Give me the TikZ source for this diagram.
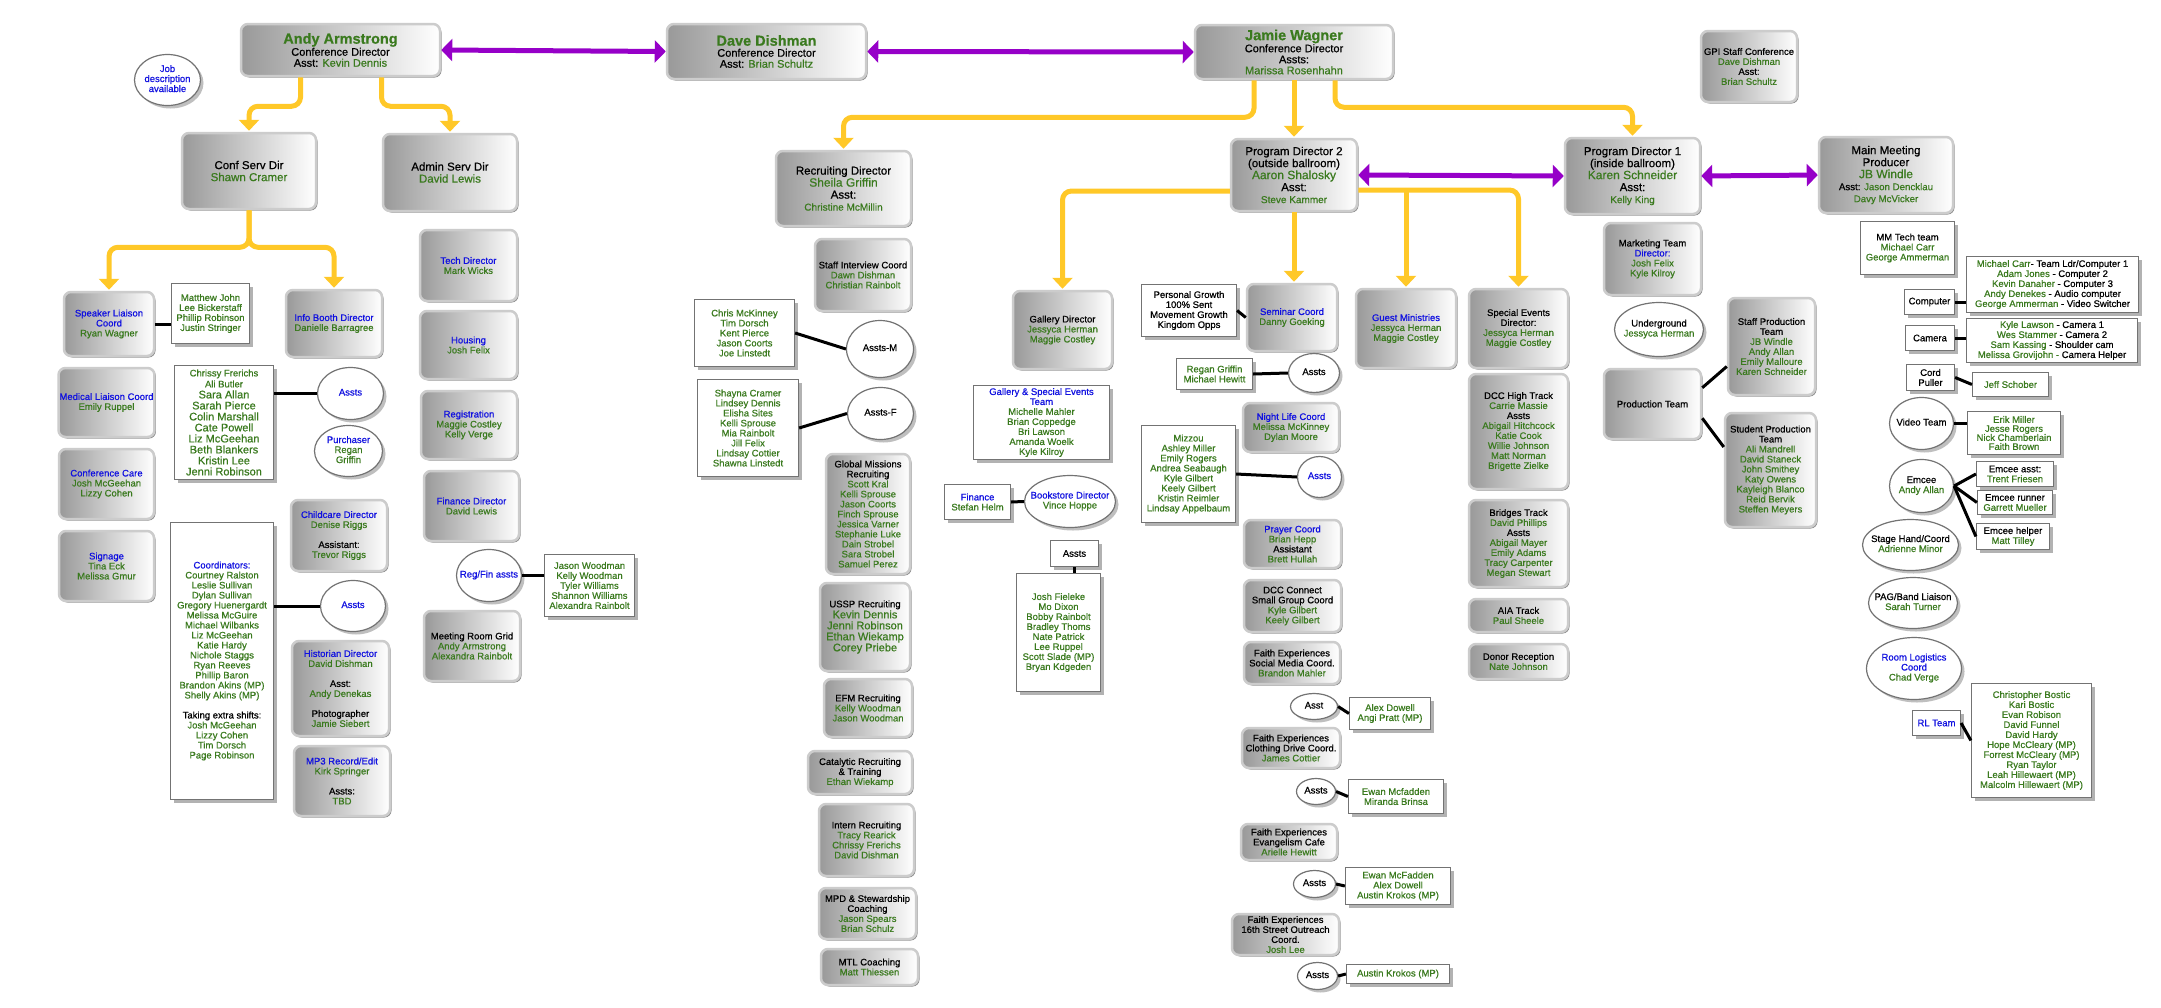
\documentclass[tikz,border=0pt]{standalone}
\usepackage{fontspec}
\setmainfont{Liberation Sans}[FakeBold=0.6]
\usetikzlibrary{positioning,shapes.geometric,shadows,arrows.meta}
\definecolor{namegreen}{RGB}{58,122,30}
\definecolor{titleblue}{RGB}{16,16,224}
\definecolor{feedyellow}{RGB}{255,200,40}
\definecolor{peerpurple}{RGB}{150,0,200}
\newcommand{\grn}[1]{\textcolor{namegreen}{#1}}
\newcommand{\blu}[1]{\textcolor{titleblue}{#1}}
\newcommand{\blk}[1]{\textcolor{black}{#1}}
\newcommand{\fsz}[1]{\fontsize{#1}{#1}\selectfont}
\newcommand{\inell}[1]{\makebox[0pt]{\begin{tabular}{@{}c@{}}#1\end{tabular}}}
\tikzset{sz/.style 2 args={minimum width=#1pt,minimum height=#2pt},
  grey box/.style={rectangle,rounded corners=7pt,draw=black!20,line width=2.5pt,left color=black!40,right color=white,inner sep=1pt,align=center,font=\fontsize{9.5}{10}\selectfont,drop shadow={shadow xshift=1.5pt,shadow yshift=-1.5pt,fill=black!45,opacity=1}},
  list box/.style={rectangle,draw=black!55,line width=1.2pt,fill=white,text=namegreen,inner sep=1pt,align=center,font=\fontsize{9.5}{10}\selectfont,drop shadow={shadow xshift=3.5pt,shadow yshift=-3.5pt,fill=black!30,opacity=1}},
  bubble/.style={ellipse,draw=black!55,line width=1.2pt,fill=white,inner sep=1pt,font=\fontsize{9.5}{10}\selectfont,drop shadow={shadow xshift=3pt,shadow yshift=-3pt,fill=black!25,opacity=1}},
  feed/.style={draw=feedyellow,line width=5pt,rounded corners=9pt,-{Triangle[width=20pt,length=11pt]},shorten >=1pt},
  peer/.style={draw=peerpurple,line width=5pt,{Triangle[width=22pt,length=11pt]}-{Triangle[width=22pt,length=11pt]}},
  link/.style={draw,line width=3pt},
}
\begin{document}
\begin{tikzpicture}[x=1pt,y=-1pt]
\fill[white] (0,0) rectangle (2161,1007);
\useasboundingbox (0,0) rectangle (2161,1007);

% conference directors
\node[grey box,sz={199}{52},font=\fontsize{11}{11}\selectfont] (andy) at (340.5,50) {{\fsz{14.5}\bfseries\grn{Andy Armstrong}}\\Conference Director\\Asst: \grn{Kevin Dennis}};
\node[grey box,sz={199}{55},font=\fontsize{11}{11}\selectfont] (dave) at (766.5,51.5) {{\fsz{14.5}\bfseries\grn{Dave Dishman}}\\Conference Director\\Asst: \grn{Brian Schultz}};
\node[grey box,sz={198}{54},font=\fontsize{11}{11}\selectfont] (jamie) at (1294,52) {{\fsz{14.5}\bfseries\grn{Jamie Wagner}}\\Conference Director\\Assts:\\\grn{Marissa Rosenhahn}};
\node[grey box,sz={96}{71}] (gpi) at (1749,66.5) {GPI Staff Conference\\\grn{Dave Dishman}\\Asst:\\\grn{Brian Schultz}};
\node[bubble,sz={66}{51}] (job) at (167.5,80) {\inell{\blu{Job}\\\blu{description}\\\blu{available}}};

% conference services
\node[grey box,sz={134}{76},font=\fontsize{11.5}{12}\selectfont] (conf) at (249,171) {Conf Serv Dir\\\grn{Shawn Cramer}};
\node[grey box,sz={90}{64}] (speaker) at (109,324) {\blu{Speaker Liaison}\\\blu{Coord}\\\grn{Ryan Wagner}};
\node[list box,sz={78}{60}] (matthew) at (210.5,313.5) {Matthew John\\Lee Bickerstaff\\Phillip Robinson\\Justin Stringer};
\node[grey box,sz={96}{67}] (info) at (334,323.5) {\blu{Info Booth Director}\\\grn{Danielle Barragree}};
\node[grey box,sz={95}{69}] (medical) at (106.5,402.5) {\blu{Medical Liaison Coord}\\\grn{Emily Ruppel}};
\node[grey box,sz={95}{70}] (confcare) at (106.5,484) {\blu{Conference Care}\\\grn{Josh McGeehan}\\\grn{Lizzy Cohen}};
\node[grey box,sz={95}{70}] (signage) at (106.5,566) {\blu{Signage}\\\grn{Tina Eck}\\\grn{Melissa Gmur}};
\node[list box,sz={99}{114},font=\fontsize{11}{11}\selectfont] (chrissy) at (224,422.5) {{\fsz{9.5}Chrissy Frerichs}\\{\fsz{9.5}Ali Butler}\\Sara Allan\\Sarah Pierce\\Colin Marshall\\Cate Powell\\Liz McGeehan\\Beth Blankers\\Kristin Lee\\Jenni Robinson};
\node[bubble,sz={66}{52}] (asstsA) at (350.5,393.5) {\inell{\blu{Assts}}};
\node[bubble,sz={68}{51}] (purchaser) at (348.5,451) {\inell{\blu{Purchaser}\\\grn{Regan}\\\grn{Griffin}}};
\node[grey box,sz={96}{71}] (childcare) at (339,535.5) {\blu{Childcare Director}\\\grn{Denise Riggs}\\[10pt]Assistant:\\\grn{Trevor Riggs}};
\node[list box,sz={103}{277}] (coordlist) at (222,661) {\blu{Coordinators:}\\Courtney Ralston\\Leslie Sullivan\\Dylan Sullivan\\Gregory Huenergardt\\Melissa McGuire\\Michael Wilbanks\\Liz McGeehan\\Katie Hardy\\Nichole Staggs\\Ryan Reeves\\Phillip Baron\\Brandon Akins (MP)\\Shelly Akins (MP)\\[10pt]\blk{Taking extra shifts:}\\Josh McGeehan\\Lizzy Cohen\\Tim Dorsch\\Page Robinson};
\node[bubble,sz={65}{51}] (asstsB) at (353,606) {\inell{\blu{Assts}}};
\node[grey box,sz={97}{95}] (historian) at (340.5,688.5) {\blu{Historian Director}\\\grn{David Dishman}\\[10pt]Asst:\\\grn{Andy Denekas}\\[10pt]Photographer\\\grn{Jamie Siebert}};
\node[grey box,sz={96}{70}] (mpthree) at (342,781) {\blu{MP3 Record/Edit}\\\grn{Kirk Springer}\\[10pt]Assts:\\\grn{TBD}};

% admin services
\node[grey box,sz={134}{77},font=\fontsize{11.5}{12}\selectfont] (admin) at (450,172.5) {Admin Serv Dir\\\grn{David Lewis}};
\node[grey box,sz={97}{71}] (tech) at (468.5,265.5) {\blu{Tech Director}\\\grn{Mark Wicks}};
\node[grey box,sz={97}{68}] (housing) at (468.5,345) {\blu{Housing}\\\grn{Josh Felix}};
\node[grey box,sz={96}{68}] (registration) at (469,425) {\blu{Registration}\\\grn{Maggie Costley}\\\grn{Kelly Verge}};
\node[grey box,sz={95}{70}] (findir) at (471.5,506) {\blu{Finance Director}\\\grn{David Lewis}};
\node[bubble,sz={65}{52}] (regfin) at (489,575.5) {\inell{\blu{Reg/Fin assts}}};
\node[list box,sz={90}{62}] (regfinlist) at (589.5,585.5) {Jason Woodman\\Kelly Woodman\\Tyler Williams\\Shannon Williams\\Alexandra Rainbolt};
\node[grey box,sz={96}{70}] (meetgrid) at (472,646) {Meeting Room Grid\\\grn{Andy Armstrong}\\\grn{Alexandra Rainbolt}};

% recruiting
\node[grey box,sz={135}{75},font=\fontsize{11.5}{12}\selectfont] (recruit) at (843.5,188.5) {Recruiting Director\\{\fsz{12}\grn{Sheila Griffin}}\\Asst:\\{\fsz{10}\grn{Christine McMillin}}};
\node[grey box,sz={96}{72}] (staffint) at (863,275) {Staff Interview Coord\\\grn{Dawn Dishman}\\\grn{Christian Rainbolt}};
\node[list box,sz={100}{67}] (chrislist) at (744.5,333) {Chris McKinney\\Tim Dorsch\\Kent Pierce\\Jason Coorts\\Joe Linstedt};
\node[bubble,sz={67}{57}] (asstsM) at (880,349) {\inell{Assts-M}};
\node[list box,sz={101}{97}] (shaynalist) at (748,428) {Shayna Cramer\\Lindsey Dennis\\Elisha Sites\\Kelli Sprouse\\Mia Rainbolt\\Jill Felix\\Lindsay Cottier\\Shawna Linstedt};
\node[bubble,sz={66}{52}] (asstsF) at (880.5,413.5) {\inell{Assts-F}};
\node[grey box,sz={84}{120}] (global) at (868,514) {Global Missions\\Recruiting\\\grn{Scott Kral}\\\grn{Kelli Sprouse}\\\grn{Jason Coorts}\\\grn{Finch Sprouse}\\\grn{Jessica Varner}\\\grn{Stephanie Luke}\\\grn{Dain Strobel}\\\grn{Sara Strobel}\\\grn{Samuel Perez}};
\node[grey box,sz={90}{88},font=\fontsize{11}{11}\selectfont] (ussp) at (865,627) {{\fsz{9.5}USSP Recruiting}\\\grn{Kevin Dennis}\\\grn{Jenni Robinson}\\\grn{Ethan Wiekamp}\\\grn{Corey Priebe}};
\node[grey box,sz={88}{58}] (efm) at (868,708) {EFM Recruiting\\\grn{Kelly Woodman}\\\grn{Jason Woodman}};
\node[grey box,sz={104}{43}] (catalytic) at (860,772.5) {Catalytic Recruiting\\\& Training\\\grn{Ethan Wiekamp}};
\node[grey box,sz={95}{72}] (intern) at (866.5,840) {Intern Recruiting\\\grn{Tracy Rearick}\\\grn{Chrissy Frerichs}\\\grn{David Dishman}};
\node[grey box,sz={97}{51}] (mpd) at (867.5,913.5) {MPD \& Stewardship\\Coaching\\\grn{Jason Spears}\\\grn{Brian Schulz}};
\node[grey box,sz={97}{36}] (mtl) at (869.5,967) {MTL Coaching\\\grn{Matt Thiessen}};

% gallery
\node[grey box,sz={99}{78}] (gallery) at (1062.5,330) {Gallery Director\\\grn{Jessyca Herman}\\\grn{Maggie Costley}};
\node[list box,sz={136}{74}] (gallerysp) at (1041.5,422.5) {\blu{Gallery \& Special Events}\\\blu{Team}\\Michelle Mahler\\Brian Coppedge\\Bri Lawson\\Amanda Woelk\\Kyle Kilroy};
\node[list box,sz={66}{35}] (finance) at (977.5,502) {\blu{Finance}\\Stefan Helm};
\node[bubble,sz={91}{52}] (bookstore) at (1070,501.5) {\inell{\blu{Bookstore Director}\\\grn{Vince Hoppe}}};
\node[list box,sz={48}{26},text=black] (asstsbook) at (1074.5,553.5) {Assts};
\node[list box,sz={84}{118}] (joshlist) at (1058.5,632.5) {Josh Fieleke\\Mo Dixon\\Bobby Rainbolt\\Bradley Thoms\\Nate Patrick\\Lee Ruppel\\Scott Slade (MP)\\Bryan Kdgeden};

% program director 2
\node[grey box,sz={126}{72},font=\fontsize{11.5}{12}\selectfont] (pdtwo) at (1294,175) {Program Director 2\\(outside ballroom)\\{\fsz{12}\grn{Aaron Shalosky}}\\Asst:\\{\fsz{10}\grn{Steve Kammer}}};
\node[list box,sz={95}{52},text=black] (personal) at (1189,310.5) {Personal Growth\\100\% Sent\\Movement Growth\\Kingdom Opps};
\node[grey box,sz={90}{67}] (seminar) at (1292,317.5) {\blu{Seminar Coord}\\\grn{Danny Goeking}};
\node[list box,sz={76}{31}] (regan) at (1214.5,374) {Regan Griffin\\Michael Hewitt};
\node[bubble,sz={51}{39}] (asstsSem) at (1314,373) {\inell{Assts}};
\node[grey box,sz={96}{49}] (nightlife) at (1291,427.5) {\blu{Night Life Coord}\\\grn{Melissa McKinney}\\\grn{Dylan Moore}};
\node[list box,sz={94}{97}] (mizzou) at (1188.5,474) {Mizzou\\Ashley Miller\\Emily Rogers\\Andrea Seabaugh\\Kyle Gilbert\\Keely Gilbert\\Kristin Reimler\\Lindsay Appelbaum};
\node[bubble,sz={44}{41}] (asstsNight) at (1319.5,477) {\inell{\blu{Assts}}};
\node[grey box,sz={97}{48}] (prayer) at (1292.5,544) {\blu{Prayer Coord}\\\grn{Brian Hepp}\\Assistant\\\grn{Brett Hullah}};
\node[grey box,sz={97}{52}] (dccconn) at (1292.5,606) {DCC Connect\\Small Group Coord\\\grn{Kyle Gilbert}\\\grn{Keely Gilbert}};
\node[grey box,sz={96}{42}] (fesocial) at (1292,663) {Faith Experiences\\Social Media Coord.\\\grn{Brandon Mahler}};
\node[bubble,sz={47}{26}] (asstFEa) at (1314,706.5) {\inell{Asst}};
\node[list box,sz={81}{32}] (alexdowell) at (1390,713.5) {Alex Dowell\\Angi Pratt (MP)};
\node[grey box,sz={98}{40}] (feclothing) at (1291,748) {Faith Experiences\\Clothing Drive Coord.\\\grn{James Cottier}};
\node[bubble,sz={39}{26}] (asstsFEb) at (1316,791.5) {\inell{Assts}};
\node[list box,sz={95}{34}] (ewanone) at (1396,796.5) {Ewan Mcfadden\\Miranda Brinsa};
\node[grey box,sz={96}{36}] (fecafe) at (1289,842) {Faith Experiences\\Evangelism Cafe\\\grn{Arielle Hewitt}};
\node[bubble,sz={42}{27}] (asstsFEc) at (1314.5,884) {\inell{Assts}};
\node[list box,sz={105}{37}] (ewantwo) at (1398,886) {Ewan McFadden\\Alex Dowell\\Austin Krokos (MP)};
\node[grey box,sz={107}{41}] (festreet) at (1285.5,934.5) {Faith Experiences\\16th Street Outreach\\Coord.\\\grn{Josh Lee}};
\node[bubble,sz={40}{27}] (asstsFEd) at (1317.5,976) {\inell{Assts}};
\node[list box,sz={103}{19}] (austin) at (1398,974) {Austin Krokos (MP)};
\node[grey box,sz={100}{79}] (guest) at (1406,328.5) {\blu{Guest Ministries}\\\grn{Jessyca Herman}\\\grn{Maggie Costley}};
\node[grey box,sz={99}{79}] (special) at (1518.5,328.5) {Special Events\\Director:\\\grn{Jessyca Herman}\\\grn{Maggie Costley}};
\node[grey box,sz={99}{115}] (dcchigh) at (1518.5,431.5) {DCC High Track\\\grn{Carrie Massie}\\Assts\\\grn{Abigail Hitchcock}\\\grn{Katie Cook}\\\grn{Willie Johnson}\\\grn{Matt Norman}\\\grn{Brigette Zielke}};
\node[grey box,sz={99}{87}] (bridges) at (1518.5,543.5) {Bridges Track\\\grn{David Phillips}\\Assts\\\grn{Abigail Mayer}\\\grn{Emily Adams}\\\grn{Tracy Carpenter}\\\grn{Megan Stewart}};
\node[grey box,sz={99}{33}] (aia) at (1518.5,615.5) {AIA Track\\\grn{Paul Sheele}};
\node[grey box,sz={99}{35}] (donor) at (1518.5,661.5) {Donor Reception\\\grn{Nate Johnson}};

% program director 1
\node[grey box,sz={135}{76},font=\fontsize{11.5}{12}\selectfont] (pdone) at (1632.5,176) {Program Director 1\\(inside ballroom)\\{\fsz{12}\grn{Karen Schneider}}\\Asst:\\{\fsz{10}\grn{Kelly King}}};
\node[grey box,sz={97}{72}] (marketing) at (1652.5,259) {Marketing Team\\\blu{Director:}\\\grn{Josh Felix}\\\grn{Kyle Kilroy}};
\node[bubble,sz={89}{54}] (underground) at (1659,329.5) {\inell{Underground\\\grn{Jessyca Herman}}};
\node[grey box,sz={97}{70}] (production) at (1652.5,404) {Production Team};
\node[grey box,sz={87}{97}] (staffprod) at (1771.5,346.5) {Staff Production\\Team\\\grn{JB Windle}\\\grn{Andy Allan}\\\grn{Emily Malloure}\\\grn{Karen Schneider}};
\node[grey box,sz={91}{114}] (studentprod) at (1770.5,470) {Student Production\\Team\\\grn{Ali Mandrell}\\\grn{David Staneck}\\\grn{John Smithey}\\\grn{Katy Owens}\\\grn{Kayleigh Blanco}\\\grn{Reid Bervik}\\\grn{Steffen Meyers}};

% main meeting
\node[grey box,sz={134}{76},font=\fontsize{11.5}{12}\selectfont] (mainmtg) at (1886,175) {Main Meeting\\Producer\\{\fsz{12}\grn{JB Windle}}\\{\fsz{9.7}Asst: \grn{Jason Dencklau}}\\{\fsz{9.7}\grn{Davy McVicker}}};
\node[list box,sz={94}{53}] (mmtech) at (1907.5,248) {\blk{MM Tech team}\\Michael Carr\\George Ammerman};
\node[list box,sz={50}{25},text=black] (computer) at (1929.5,302) {Computer};
\node[list box,sz={172}{56}] (complist) at (2052.5,284.5) {Michael Carr\blk{- Team Ldr/Computer 1}\\Adam Jones \blk{- Computer 2}\\Kevin Danaher \blk{- Computer 3}\\Andy Denekes \blk{- Audio computer}\\George Ammerman \blk{- Video Switcher}};
\node[list box,sz={49}{25},text=black] (camera) at (1930,338) {Camera};
\node[list box,sz={171}{44}] (camlist) at (2052,340.5) {Kyle Lawson \blk{- Camera 1}\\Wes Stammer \blk{- Camera 2}\\Sam Kassing \blk{- Shoulder cam}\\Melissa Grovijohn - \blk{Camera Helper}};
\node[list box,sz={48}{26},text=black] (cord) at (1930.5,377.5) {Cord\\Puller};
\node[list box,sz={76}{24}] (jeff) at (2010.5,384.5) {Jeff Schober};
\node[bubble,sz={64}{52}] (videoteam) at (1921.5,423.5) {\inell{Video Team}};
\node[list box,sz={93}{43},font=\fontsize{9.5}{9}\selectfont] (eriklist) at (2014,433) {Erik Miller\\Jesse Rogers\\Nick Chamberlain\\Faith Brown};
\node[bubble,sz={64}{53}] (emcee) at (1921.5,486) {\inell{Emcee\\\grn{Andy Allan}}};
\node[list box,sz={77}{25}] (emceeasst) at (2015,474) {\blk{Emcee asst:}\\Trent Friesen};
\node[list box,sz={75}{24}] (emceerunner) at (2015,502.5) {\blk{Emcee runner}\\Garrett Mueller};
\node[list box,sz={73}{26}] (emceehelper) at (2013,536.5) {\blk{Emcee helper}\\Matt Tilley};
\node[bubble,sz={96}{51}] (stagehand) at (1910.5,545) {\inell{Stage Hand/Coord\\\grn{Adrienne Minor}}};
\node[bubble,sz={89}{51}] (pag) at (1913,603) {\inell{PAG/Band Liaison\\\grn{Sarah Turner}}};
\node[bubble,sz={95}{62}] (roomlog) at (1914,668.5) {\inell{\blu{Room Logistics}\\\blu{Coord}\\\grn{Chad Verge}}};
\node[list box,sz={48}{25},text=titleblue] (rlteam) at (1936.5,723) {RL Team};
\node[list box,sz={120}{114}] (rllist) at (2031.5,740.5) {Christopher Bostic\\Kari Bostic\\Evan Robison\\David Funnel\\David Hardy\\Hope McCleary (MP)\\Forrest McCleary (MP)\\Ryan Taylor\\Leah Hillewaert (MP)\\Malcolm Hillewaert (MP)};

% reporting lines
\draw[feed] ([xshift=-40pt]andy.south) -- ++(0,29) -| (conf.north);
\draw[feed] ([xshift=41pt]andy.south) -- ++(0,29) -| (admin.north);
\draw[feed] (conf.south) -- ++(0,37) -| (speaker.north);
\draw[feed] (conf.south) -- ++(0,37) -| (info.north);
\draw[feed] ([xshift=-40pt]jamie.south) -- ++(0,37) -| (recruit.north);
\draw[feed] (jamie.south) -- (pdtwo.north);
\draw[feed] ([xshift=41pt]jamie.south) -- ++(0,27) -| (pdone.north);
\draw[feed] ([yshift=-16pt]pdtwo.west) -| (gallery.north);
\draw[feed] (pdtwo.south) -- (pdtwo.south |- seminar.north);
\coordinate (pdtwoR) at ([yshift=-15pt]pdtwo.east);
\draw[feed] (pdtwoR) -| (special.north);
\draw[feed] (pdtwoR -| guest.north) -- (guest.north);

% peers
\draw[peer] (andy.east) -- (dave.west);
\draw[peer] (dave.east) -- (jamie.west);
\draw[peer] (pdtwo.east) -- (pdone.west);
\draw[peer] (pdone.east) -- (mainmtg.west);

% helpers
\path[link]
  (speaker.east) edge (speaker.east -| matthew.west)
  (chrissy.east |- asstsA.west) edge (asstsA.west)
  (coordlist.east |- asstsB.west) edge (asstsB.west)
  (regfin.east) edge (regfin.east -| regfinlist.west)
  (chrislist.east) edge (asstsM.west)
  (shaynalist.east) edge (asstsF.west)
  (finance.east) edge (bookstore.west)
  (asstsbook.south) edge (asstsbook.south |- joshlist.north)
  (personal.east) edge (seminar.west)
  (regan.east) edge (asstsSem.west)
  (mizzou.east) edge (asstsNight.west)
  (asstFEa.east) edge (alexdowell.west)
  (asstsFEb.east) edge (ewanone.west)
  (asstsFEc.east) edge (ewantwo.west)
  (asstsFEd.east) edge (austin.west)
  ([yshift=-20pt]production.north east) edge ([yshift=-20pt]staffprod.west)
  ([yshift=22pt]production.south east) edge ([yshift=23pt]studentprod.west)
  (computer.east) edge (computer.east -| complist.west)
  (camera.east) edge (camera.east -| camlist.west)
  (cord.east) edge (jeff.west)
  (videoteam.east) edge (videoteam.east -| eriklist.west)
  (emcee.east) edge (emceeasst.west)
  (emcee.east) edge (emceerunner.west)
  (emcee.east) edge (emceehelper.west)
  (rlteam.east) edge (rllist.west);
\end{tikzpicture}
\end{document}
